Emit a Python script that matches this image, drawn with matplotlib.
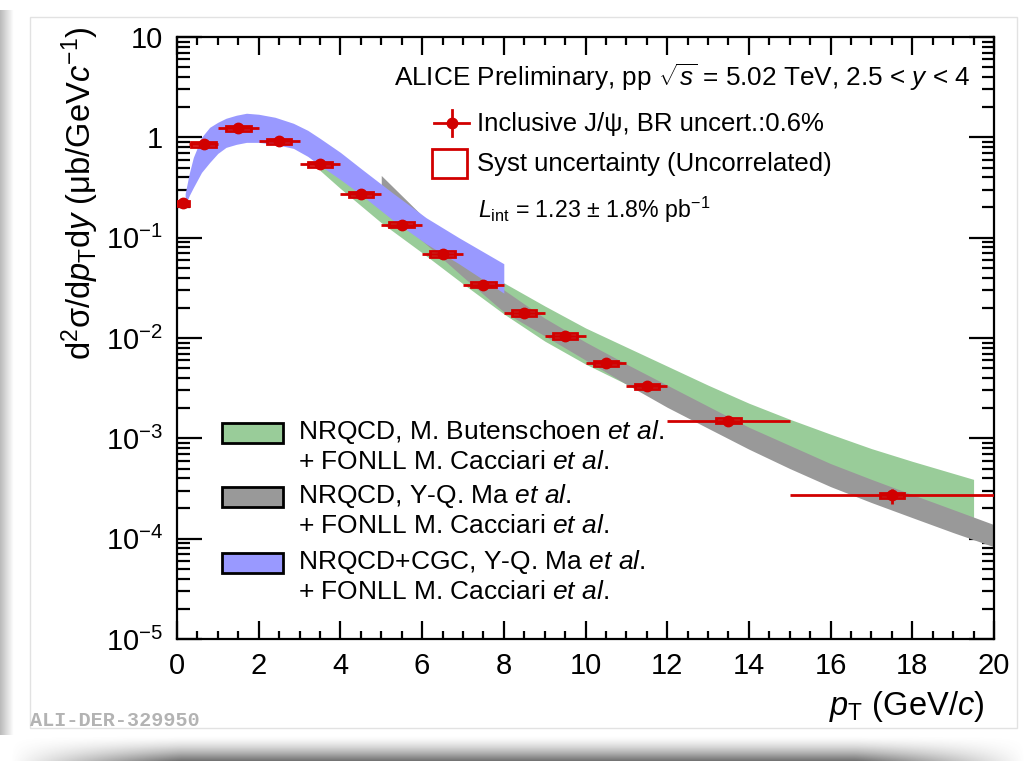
import numpy as np
import matplotlib
matplotlib.use("Agg")
import matplotlib.pyplot as plt
from matplotlib.patches import Rectangle
from matplotlib.ticker import MultipleLocator, FixedLocator, FixedFormatter, LogLocator, NullFormatter

plt.rcParams['font.family'] = ['Liberation Sans', 'DejaVu Sans']
plt.rcParams['mathtext.fontset'] = 'custom'
plt.rcParams['mathtext.rm'] = 'Liberation Sans'
plt.rcParams['mathtext.it'] = 'Liberation Sans:italic'
plt.rcParams['mathtext.bf'] = 'Liberation Sans:bold'

# ---------- DATA ----------
# inclusive J/psi cross section points
pt = [0.15, 0.65, 1.5, 2.5, 3.5, 4.5, 5.5, 6.5, 7.5, 8.5, 9.5, 10.5, 11.5, 13.5, 17.5]
pt_halfbin = [0.15, 0.35, 0.5, 0.5, 0.5, 0.5, 0.5, 0.5, 0.5, 0.5, 0.5, 0.5, 0.5, 1.5, 2.5]
xsec = [0.22, 0.85, 1.23, 0.91, 0.54, 0.27, 0.135, 0.069, 0.034, 0.0178, 0.0105,
        0.0056, 0.0033, 0.0015, 2.7e-4]
stat_rel = [0.03, 0.02, 0.02, 0.02, 0.02, 0.02, 0.03, 0.03, 0.04, 0.04, 0.05,
            0.06, 0.08, 0.12, 0.17]
syst_rel = [0.05, 0.06, 0.06, 0.06, 0.06, 0.06, 0.06, 0.06, 0.06, 0.06, 0.06,
            0.06, 0.06, 0.06, 0.06]

# NRQCD Butenschoen + FONLL (green)
pt_green = [3.5, 4.0, 5.0, 6.0, 7.0, 8.0, 9.0, 10.0, 11.0, 12.0, 13.0, 14.0, 15.0,
            16.0, 17.0, 18.0, 19.5]
green_hi = [0.562, 0.447, 0.263, 0.141, 0.0708, 0.0355, 0.0209, 0.0126, 0.00813,
            0.00525, 0.00339, 0.00224, 0.00155, 0.00110, 7.9e-4, 5.9e-4, 3.9e-4]
green_lo = [0.468, 0.309, 0.141, 0.0708, 0.0347, 0.0174, 0.00933, 0.0055, 0.00347,
            0.00234, 0.00158, 0.00110, 7.6e-4, 5.25e-4, 3.72e-4, 2.63e-4, 1.58e-4]

# NRQCD Ma + FONLL (gray)
pt_gray = [5, 6, 7, 8, 9, 10, 11, 12, 13, 14, 15, 16, 17, 18, 19, 20]
gray_hi = [0.417, 0.166, 0.0676, 0.0302, 0.0158, 0.00912, 0.00550, 0.00339, 0.00209,
           0.00129, 8.5e-4, 5.6e-4, 3.9e-4, 2.75e-4, 1.95e-4, 1.38e-4]
gray_lo = [0.209, 0.0933, 0.0407, 0.0182, 0.0105, 0.00603, 0.00347, 0.00204, 0.00126,
           7.8e-4, 5.0e-4, 3.3e-4, 2.29e-4, 1.62e-4, 1.15e-4, 8.3e-5]

# NRQCD+CGC Ma + FONLL (blue)
pt_blue = [0.2, 0.3, 0.4, 0.6, 0.8, 1.0, 1.2, 1.45, 1.7, 2.0, 2.4, 2.85, 3.2, 3.5,
           4.0, 4.5, 5.3, 6.1, 6.9, 8.0]
blue_hi = [0.275, 0.437, 0.631, 1.0, 1.259, 1.413, 1.549, 1.660, 1.738, 1.698, 1.585,
           1.380, 1.175, 0.977, 0.708, 0.490, 0.275, 0.158, 0.100, 0.055]
blue_lo = [0.209, 0.263, 0.316, 0.447, 0.562, 0.692, 0.794, 0.851, 0.891, 0.891, 0.851,
           0.776, 0.646, 0.525, 0.380, 0.269, 0.148, 0.087, 0.055, 0.028]

ytick_vals = [1e-5, 1e-4, 1e-3, 1e-2, 1e-1, 1, 10]
ytick_labels = [r"$10^{-5}$", r"$10^{-4}$", r"$10^{-3}$", r"$10^{-2}$", r"$10^{-1}$", "1", "10"]

RED = "#d10000"
GREEN = "#99cc99"
GRAY = "#999999"
BLUE = "#9999ff"

W, H = 1026, 761
fig = plt.figure(figsize=(W / 100, H / 100), dpi=100)
fig.patch.set_facecolor("white")

# ---------- BACKGROUND CARD + SHADOW ----------
bg = fig.add_axes([0, 0, 1, 1], zorder=-10)
bg.set_xlim(0, W)
bg.set_ylim(H, 0)
bg.axis("off")

sh = np.zeros((30, 400, 4))
yy = np.linspace(0, 1, 30)[:, None]
xx = np.linspace(0, 1, 400)[None, :]
sh[..., :3] = 0.35
sh[..., 3] = (yy ** 1.6) * np.clip(np.minimum(xx, 1 - xx) * 6, 0, 1) * 0.85
bg.imshow(sh, extent=[10, W, H, 735], aspect="auto", interpolation="bilinear")

side = np.zeros((10, 20, 4))
side[..., :3] = 0.55
side[..., 3] = np.linspace(0.6, 0, 20)[None, :]
bg.imshow(side, extent=[0, 14, 735, 10], aspect="auto", interpolation="bilinear")
bg.add_patch(Rectangle((30, 17), 987, 711, facecolor="white", edgecolor="#e2e2e2", lw=1))
bg.text(30, 721, "ALI-DER-329950", family="Liberation Mono", weight="bold",
        fontsize=14.5, color="#b3b3b3", va="center", ha="left")

# ---------- MAIN AXES ----------
ax = fig.add_axes([177 / W, 1 - 639 / H, (994 - 177) / W, (639 - 37) / H])
ax.set_facecolor("none")
ax.set_yscale("log")
ax.set_xlim(0, 20)
ax.set_ylim(1e-5, 10)

ax.fill_between(pt_green, green_lo, green_hi, color=GREEN, lw=0, zorder=1)
ax.fill_between(pt_gray, gray_lo, gray_hi, color=GRAY, lw=0, zorder=2)
ax.fill_between(pt_blue, blue_lo, blue_hi, color=BLUE, lw=0, zorder=3)

for x, y, hw, s in zip(pt, xsec, pt_halfbin, syst_rel):
    bw = min(0.3, hw)
    ax.add_patch(Rectangle((x - bw, y * (1 - s)), 2 * bw, 2 * s * y,
                           facecolor="none", edgecolor=RED, lw=2, zorder=4))

yerr = [np.array(xsec) * np.array(stat_rel), np.array(xsec) * np.array(stat_rel)]
ax.errorbar(pt, xsec, xerr=pt_halfbin, yerr=yerr, fmt="o", color=RED, ms=7.5,
            elinewidth=2, capsize=0, zorder=5)

for s in ax.spines.values():
    s.set_linewidth(1.6)
ax.xaxis.set_major_locator(MultipleLocator(2))
ax.xaxis.set_minor_locator(MultipleLocator(0.5))
ax.yaxis.set_major_locator(FixedLocator(ytick_vals))
ax.yaxis.set_major_formatter(FixedFormatter(ytick_labels))
ax.yaxis.set_minor_locator(LogLocator(base=10, subs=np.arange(2, 10)))
ax.yaxis.set_minor_formatter(NullFormatter())
ax.tick_params(axis="both", which="both", direction="in", top=True, right=True,
               labelsize=21, width=1.6)
ax.tick_params(axis="x", which="major", length=13, pad=9)
ax.tick_params(axis="x", which="minor", length=6)
ax.tick_params(axis="y", which="major", length=18, pad=10)
ax.tick_params(axis="y", which="minor", length=9)

# ---------- OVERLAY (legends, texts) ----------
ov = fig.add_axes([0, 0, 1, 1], zorder=10)
ov.set_xlim(0, W)
ov.set_ylim(H, 0)
ov.axis("off")
ov.patch.set_alpha(0)

fig.text(80 / W, 1 - 193 / H, r"d$^{2}$σ/d$p_{\mathrm{T}}$d$y$ (μb/GeV$c^{-1}$)",
         rotation=90, ha="center", va="center", fontsize=23.5)
ov.text(984, 706, r"$p_{\mathrm{T}}$ (GeV/$c$)", ha="right", va="center", fontsize=23.5)

ov.text(970, 77, r"ALICE Preliminary, pp $\sqrt{s}$ = 5.02 TeV, 2.5 < $y$ < 4",
        ha="right", va="center", fontsize=18.8)
ov.plot([434, 469], [123, 123], color=RED, lw=2)
ov.plot([451.5, 451.5], [110, 136], color=RED, lw=2)
ov.plot([451.5], [123], "o", color=RED, ms=7.5)
ov.text(477, 124, "Inclusive J/ψ, BR uncert.:0.6%", ha="left", va="center", fontsize=18.5)
ov.add_patch(Rectangle((432, 149), 35, 29, facecolor="none", edgecolor=RED, lw=2))
ov.text(477, 164, "Syst uncertainty (Uncorrelated)", ha="left", va="center", fontsize=18.5)
ov.text(478, 210, r"$L_{\mathrm{int}}$ = 1.23 ± 1.8% pb$^{\mathrm{-1}}$", ha="left",
        va="center", fontsize=16.7)

model_colors = [GREEN, GRAY, BLUE]
model_lines = [
    (r"NRQCD, M. Butenschoen $et\ al.$", r"+ FONLL M. Cacciari $et\ al.$"),
    (r"NRQCD, Y-Q. Ma $et\ al.$", r"+ FONLL M. Cacciari $et\ al.$"),
    (r"NRQCD+CGC, Y-Q. Ma $et\ al.$", r"+ FONLL M. Cacciari $et\ al.$"),
]
box_y = [423, 487, 553]
for i, (c, (l1, l2)) in enumerate(zip(model_colors, model_lines)):
    ov.add_patch(Rectangle((222, box_y[i]), 61, 20, facecolor=c, edgecolor="black", lw=2))
    ov.text(298, box_y[i] + 9, l1, ha="left", va="center", fontsize=19)
    ov.text(298, box_y[i] + 39, l2, ha="left", va="center", fontsize=19)

fig.savefig("out.png", dpi=100)
